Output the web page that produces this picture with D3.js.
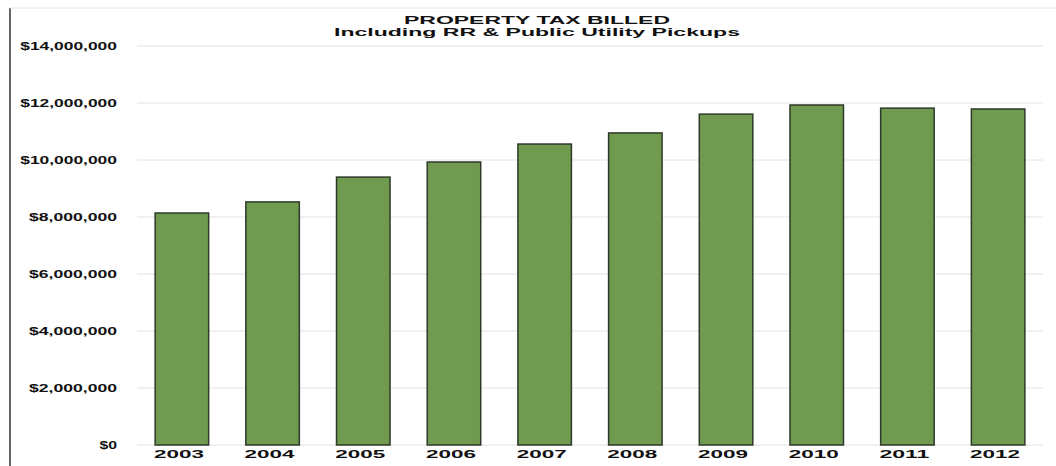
<!DOCTYPE html>
<html>
<head>
<meta charset="utf-8">
<script src="https://cdn.jsdelivr.net/npm/d3@7"></script>
<style>
  body { margin: 0; background: #fff; }
  text { font-family: "Liberation Sans", Arial, sans-serif; font-weight: bold; fill: #111; }
</style>
</head>
<body>
<svg class="chart"></svg>
<script>
var years = ['2003','2004','2005','2006','2007','2008','2009','2010','2011','2012'];
var billed = [8140000, 8530000, 9400000, 9930000, 10560000, 10950000, 11610000, 11930000, 11820000, 11790000];
var yTicks = [0, 2000000, 4000000, 6000000, 8000000, 10000000, 12000000, 14000000];
var titleLines = ['PROPERTY TAX BILLED', 'Including RR & Public Utility Pickups'];

var svg = d3.select('.chart')
    .attr('width', 1056)
    .attr('height', 466);

var margin = {left: 137, right: 13, top: 46, bottom: 21};

var xScale = d3.scaleBand()
    .domain(years)
    .range([margin.left, 1056 - margin.right])
    .paddingInner(0.41)
    .paddingOuter(0.2);

var yScale = d3.scaleLinear()
    .domain([0, 14000000])
    .range([445, margin.top]);

// frame lines
svg.append('line')
   .attr('x1', 10).attr('x2', 10).attr('y1', 8).attr('y2', 466)
   .attr('stroke', '#333').attr('stroke-width', 1.5);
svg.append('line')
   .attr('x1', 10).attr('x2', 1056).attr('y1', 8).attr('y2', 8)
   .attr('stroke', '#e4e4e4').attr('stroke-width', 1);

// gridlines
svg.append('g')
   .selectAll('line')
   .data(yTicks)
   .join('line')
   .attr('x1', margin.left)
   .attr('x2', 1043)
   .attr('y1', d => yScale(d))
   .attr('y2', d => yScale(d))
   .attr('stroke', '#e2e2e2')
   .attr('stroke-width', 1);

var fmt = d3.format('$,');
var yAxis = d3.axisLeft(yScale)
    .tickValues(yTicks)
    .tickFormat(d => fmt(d))
    .tickSize(0)
    .tickPadding(0);

svg.append('g')
   .attr('transform', 'translate(117,0)')
   .call(yAxis)
   .call(g => g.select('.domain').remove())
   .selectAll('text')
   .style('font-size', '10px')
   .attr('textLength', d => fmt(d).length * 8.8)
   .attr('lengthAdjust', 'spacingAndGlyphs');

svg.selectAll('.bar')
   .data(billed)
   .join('rect')
   .attr('class', 'bar')
   .attr('x', (d, i) => xScale(years[i]))
   .attr('y', d => yScale(d))
   .attr('width', xScale.bandwidth())
   .attr('height', d => yScale(0) - yScale(d))
   .attr('fill', '#6f9a4f')
   .attr('stroke', '#2e3a2a')
   .attr('stroke-width', 1.5);

var xAxis = d3.axisBottom(xScale).tickSize(0).tickPadding(0);
svg.append('g')
   .attr('transform', 'translate(-3,450)')
   .call(xAxis)
   .call(g => g.select('.domain').remove())
   .selectAll('text')
   .style('font-size', '11.5px')
   .attr('textLength', 50)
   .attr('lengthAdjust', 'spacingAndGlyphs');

var titleWidths = [266, 406];
svg.append('g')
   .selectAll('text')
   .data(titleLines)
   .join('text')
   .attr('x', 537)
   .attr('y', (d, i) => 24 + i * 12)
   .attr('text-anchor', 'middle')
   .attr('textLength', (d, i) => titleWidths[i])
   .attr('lengthAdjust', 'spacingAndGlyphs')
   .style('font-size', '11px')
   .text(d => d);
</script>
</body>
</html>
